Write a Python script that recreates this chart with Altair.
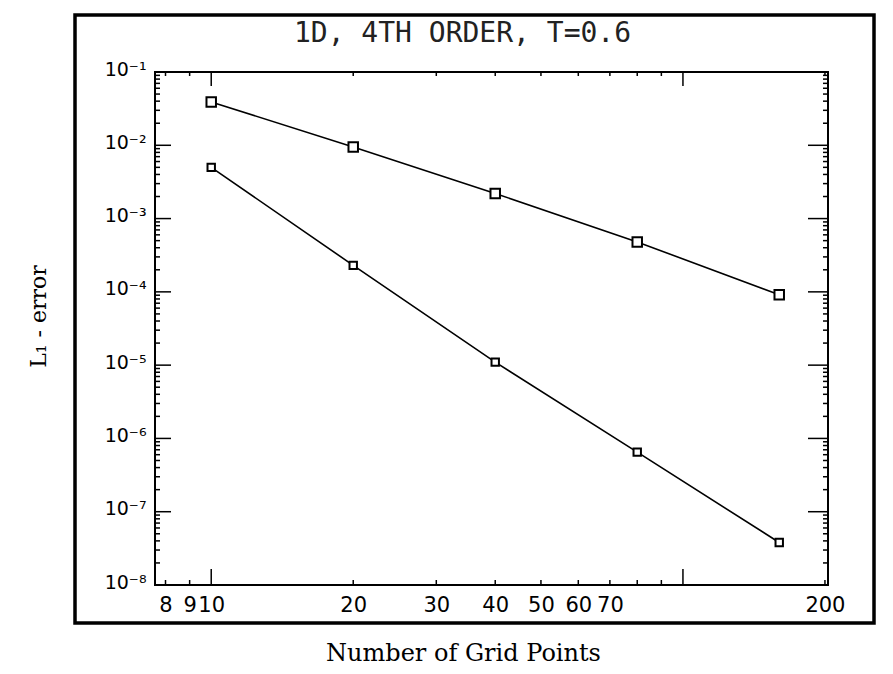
import altair as alt
import pandas as pd

# ---- data ----
grid_points = [10, 20, 40, 80, 160]
err_upper = [3.9e-2, 9.5e-3, 2.2e-3, 4.8e-4, 9.1e-5]
err_lower = [5.0e-3, 2.3e-4, 1.1e-5, 6.5e-7, 3.8e-8]

x_label_values = [8, 9, 10, 20, 30, 40, 50, 60, 70, 200]
y_label_values = [1e-1, 1e-2, 1e-3, 1e-4, 1e-5, 1e-6, 1e-7, 1e-8]
x_major_ticks = [10, 100]
x_minor_ticks = [8, 9, 20, 30, 40, 50, 60, 70, 80, 90, 200]
y_major_ticks = y_label_values
y_minor_ticks = [k * 10.0 ** e for e in range(-8, -1) for k in range(2, 10)]

title_text = "1D, 4TH ORDER, T=0.6"

W, H = 673, 513

df_up = pd.DataFrame({"N": grid_points, "err": err_upper})
df_lo = pd.DataFrame({"N": grid_points, "err": err_lower})

xs = alt.Scale(type="log", domain=[7.6, 203], nice=False)
ys = alt.Scale(type="log", domain=[1e-8, 1e-1], nice=False)

sup = "['', '\u207b\u00b9', '\u207b\u00b2', '\u207b\u00b3', '\u207b\u2074', '\u207b\u2075', '\u207b\u2076', '\u207b\u2077', '\u207b\u2078']"

x_axis = alt.Axis(
    values=x_label_values, labelExpr="format(datum.value, 'd')", ticks=False,
    domain=False, grid=False, labelOverlap=False, labelFont="DejaVu Sans",
    labelFontSize=21, labelColor="black", labelPadding=9, labelFlush=False,
    title="Number of Grid Points", titleFont="DejaVu Serif", titleFontSize=24,
    titleFontWeight="normal", titleColor="black", titlePadding=26,
    titleX=308, titleAlign="center",
)
y_axis = alt.Axis(
    values=y_label_values,
    labelExpr="'10' + " + sup + "[round(-log(datum.value) / LN10)]",
    ticks=False, domain=False, grid=False, labelOverlap=False,
    labelFont="DejaVu Sans", labelFontSize=19, labelColor="black",
    labelPadding=9, labelFlush=False, labelBaseline="alphabetic", labelOffset=3,
    title="L\u2081 - error", titleFont="DejaVu Serif", titleFontSize=22,
    titleFontWeight="normal", titleColor="black", titlePadding=54,
    titleY=244, titleAlign="center",
)

X = alt.X("N:Q", scale=xs, axis=x_axis)
Y = alt.Y("err:Q", scale=ys, axis=y_axis)

# frame around the whole figure
frame = alt.Chart(pd.DataFrame({"a": [0]})).mark_rect(
    fillOpacity=0, stroke="black", strokeWidth=3.5
).encode(x=alt.value(-80), x2=alt.value(719), y=alt.value(-57), y2=alt.value(551))

title = alt.Chart(pd.DataFrame({"t": [title_text]})).mark_text(
    font="DejaVu Sans Mono", fontSize=28, color="#222", align="center", baseline="alphabetic"
).encode(text="t:N", x=alt.value(W / 2 - 29), y=alt.value(-30))


def yticks(values, x0, x1):
    return alt.Chart(pd.DataFrame({"err": values})).mark_rule(
        color="black", strokeWidth=1.5
    ).encode(y=Y, x=alt.value(x0), x2=alt.value(x1))


def xticks(values, y0, y1):
    return alt.Chart(pd.DataFrame({"N": values})).mark_rule(
        color="black", strokeWidth=1.5
    ).encode(x=X, y=alt.value(y0), y2=alt.value(y1))


ticks = [
    yticks(y_major_ticks, 0, 16),
    yticks(y_minor_ticks, 0, 5),
    yticks(y_major_ticks, W - 20, W),
    yticks(y_minor_ticks, W - 5, W),
    xticks(x_major_ticks, H - 16, H),
    xticks(x_minor_ticks, H - 5, H),
    xticks(x_major_ticks, 0, 14),
    xticks(x_minor_ticks, 0, 4),
]

line_up = alt.Chart(df_up).mark_line(color="black", strokeWidth=1.6).encode(x=X, y=Y)
line_lo = alt.Chart(df_lo).mark_line(color="black", strokeWidth=1.6).encode(x=X, y=Y)
pts_up = alt.Chart(df_up).mark_point(
    shape="square", filled=True, fill="white", stroke="black", strokeWidth=2, size=90, opacity=1
).encode(x=X, y=Y)
pts_lo = alt.Chart(df_lo).mark_point(
    shape="square", filled=True, fill="white", stroke="black", strokeWidth=2, size=55, opacity=1
).encode(x=X, y=Y)

chart = alt.layer(
    frame, title, *ticks, line_up, line_lo, pts_up, pts_lo
).properties(
    width=W, height=H,
    padding={"left": 147, "top": 64, "right": 50, "bottom": 84},
    autosize=alt.AutoSizeParams(type="none"),
    background="white",
).configure_view(stroke="black", strokeWidth=2)

chart.save("out.html", embed_options={"renderer": "svg", "actions": False})
